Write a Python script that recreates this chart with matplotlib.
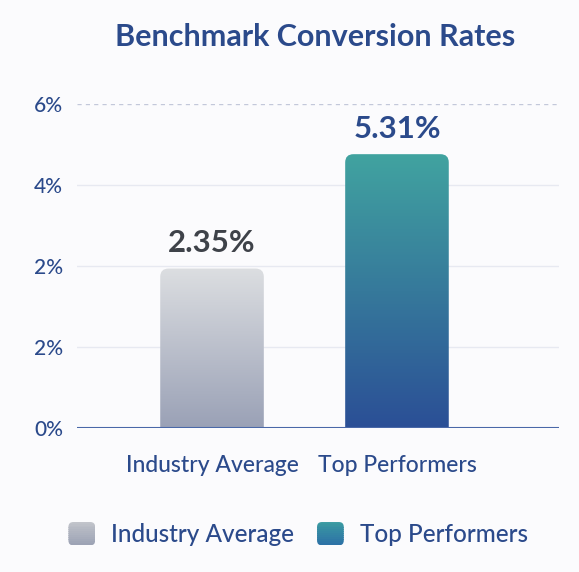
import numpy as np
import matplotlib
matplotlib.use("Agg")
import matplotlib.pyplot as plt
from matplotlib.patches import FancyBboxPatch, Rectangle
from matplotlib.legend_handler import HandlerPatch
from matplotlib.colors import LinearSegmentedColormap

plt.rcParams['font.family'] = ['Lato', 'DejaVu Sans']

# ---- data ----
categories = ["Industry Average", "Top Performers"]
bar_heights = [2.95, 5.07]            # visual heights on the axis scale
value_labels = ["2.35%", "5.31%"]
tick_values = [0, 1.5, 3, 4.5, 6]
tick_labels = ["0%", "2%", "2%", "4%", "6%"]
title = "Benchmark Conversion Rates"

# ---- style ----
BLUE = "#2b4a8b"
grad_colors = [("#9aa1b6", "#dcdee1"), ("#2b4f96", "#41a3a0")]  # (bottom, top)
label_colors = ["#3e4249", BLUE]
legend_grads = [("#9da3b5", "#c0c3ca"), ("#2d72a6", "#3a9aa2")]

fig = plt.figure(figsize=(5.79, 5.72), dpi=100)
fig.patch.set_facecolor("#fbfbfd")
ax = fig.add_axes([77/579, 1-427.7/572, (559-77)/579, (427.7-104)/572])
ax.set_facecolor("none")

x = np.arange(len(categories))
width = 0.56
ax.set_xlim(-0.73, 1.876)
ax.set_ylim(0, 6)

for i, (xi, h) in enumerate(zip(x, bar_heights)):
    patch = FancyBboxPatch((xi - width/2, -1), width, h + 1,
                           boxstyle="round,pad=0,rounding_size=0.045",
                           mutation_aspect=3.4, facecolor="none",
                           edgecolor="none", transform=ax.transData)
    ax.add_patch(patch)
    cmap = LinearSegmentedColormap.from_list("g%d" % i, list(grad_colors[i]))
    grad = np.linspace(0, 1, 256).reshape(-1, 1)
    im = ax.imshow(grad, cmap=cmap, origin="lower", aspect="auto",
                   extent=(xi - width/2, xi + width/2, 0, h), zorder=2)
    im.set_clip_path(patch)
    ax.annotate(value_labels[i], (xi, h), xytext=(0, 8), textcoords="offset points",
                ha="center", va="bottom", fontsize=22.5, fontweight="bold",
                color=label_colors[i], zorder=3)

ax.set_xlim(-0.73, 1.876)
ax.set_ylim(0, 6)

# gridlines
for v in tick_values[1:-1]:
    ax.axhline(v, color="#e7e9f1", lw=1.0, zorder=0)
ax.axhline(tick_values[-1], color="#c3c8da", lw=1.0, ls=(0, (3, 3)), zorder=0)
ax.axhline(0, color="#4a68a8", lw=1.5, zorder=4)

ax.set_yticks(tick_values)
ax.set_yticklabels(tick_labels)
ax.set_xticks(x)
ax.set_xticklabels(categories)
ax.tick_params(axis="y", length=0, pad=10, labelsize=15, labelcolor=BLUE)
ax.tick_params(axis="x", length=0, pad=20, labelsize=16.5, labelcolor=BLUE)
for lab in ax.get_yticklabels():
    lab.set_fontweight("medium")
for lab in ax.get_xticklabels():
    lab.set_fontweight("medium")
for s in ax.spines.values():
    s.set_visible(False)

fig.text(315/579, 1-37/572, title, ha="center", va="center", fontsize=22,
         fontweight="bold", color=BLUE)

class GradHandler(HandlerPatch):
    def __init__(self, grads):
        super().__init__()
        self.grads = grads
    def create_artists(self, legend, orig_handle, xdescent, ydescent, width,
                       height, fontsize, trans):
        idx = int(orig_handle.get_label_index)
        lo, hi = self.grads[idx]
        arts = []
        n = 12
        for k in range(n):
            c = np.array(matplotlib.colors.to_rgb(lo)) * (k / (n - 1)) + \
                np.array(matplotlib.colors.to_rgb(hi)) * (1 - k / (n - 1))
            r = Rectangle((-xdescent, -ydescent + height * (n - 1 - k) / n), width,
                          height / n + 0.3, facecolor=c, edgecolor="none", transform=trans)
            arts.append(r)
        clip = FancyBboxPatch((-xdescent, -ydescent), width, height,
                              boxstyle="round,pad=0,rounding_size=3.5",
                              facecolor="none", edgecolor="none", transform=trans)
        for a in arts:
            a.set_clip_path(clip)
        arts.append(clip)
        return arts

handles = []
for i in range(len(categories)):
    r = Rectangle((0, 0), 1, 1)
    r.get_label_index = i
    handles.append(r)
leg = fig.legend(handles, categories, loc="center", bbox_to_anchor=(298/579, 1-534/572),
                 ncol=2, frameon=False, fontsize=17.5, labelcolor=BLUE,
                 handlelength=1.1, handleheight=1.1, handletextpad=0.65,
                 columnspacing=0.95, handler_map={Rectangle: GradHandler(legend_grads)})
for t in leg.get_texts():
    t.set_fontweight("medium")

fig.savefig("out.png", dpi=100, facecolor=fig.get_facecolor())
